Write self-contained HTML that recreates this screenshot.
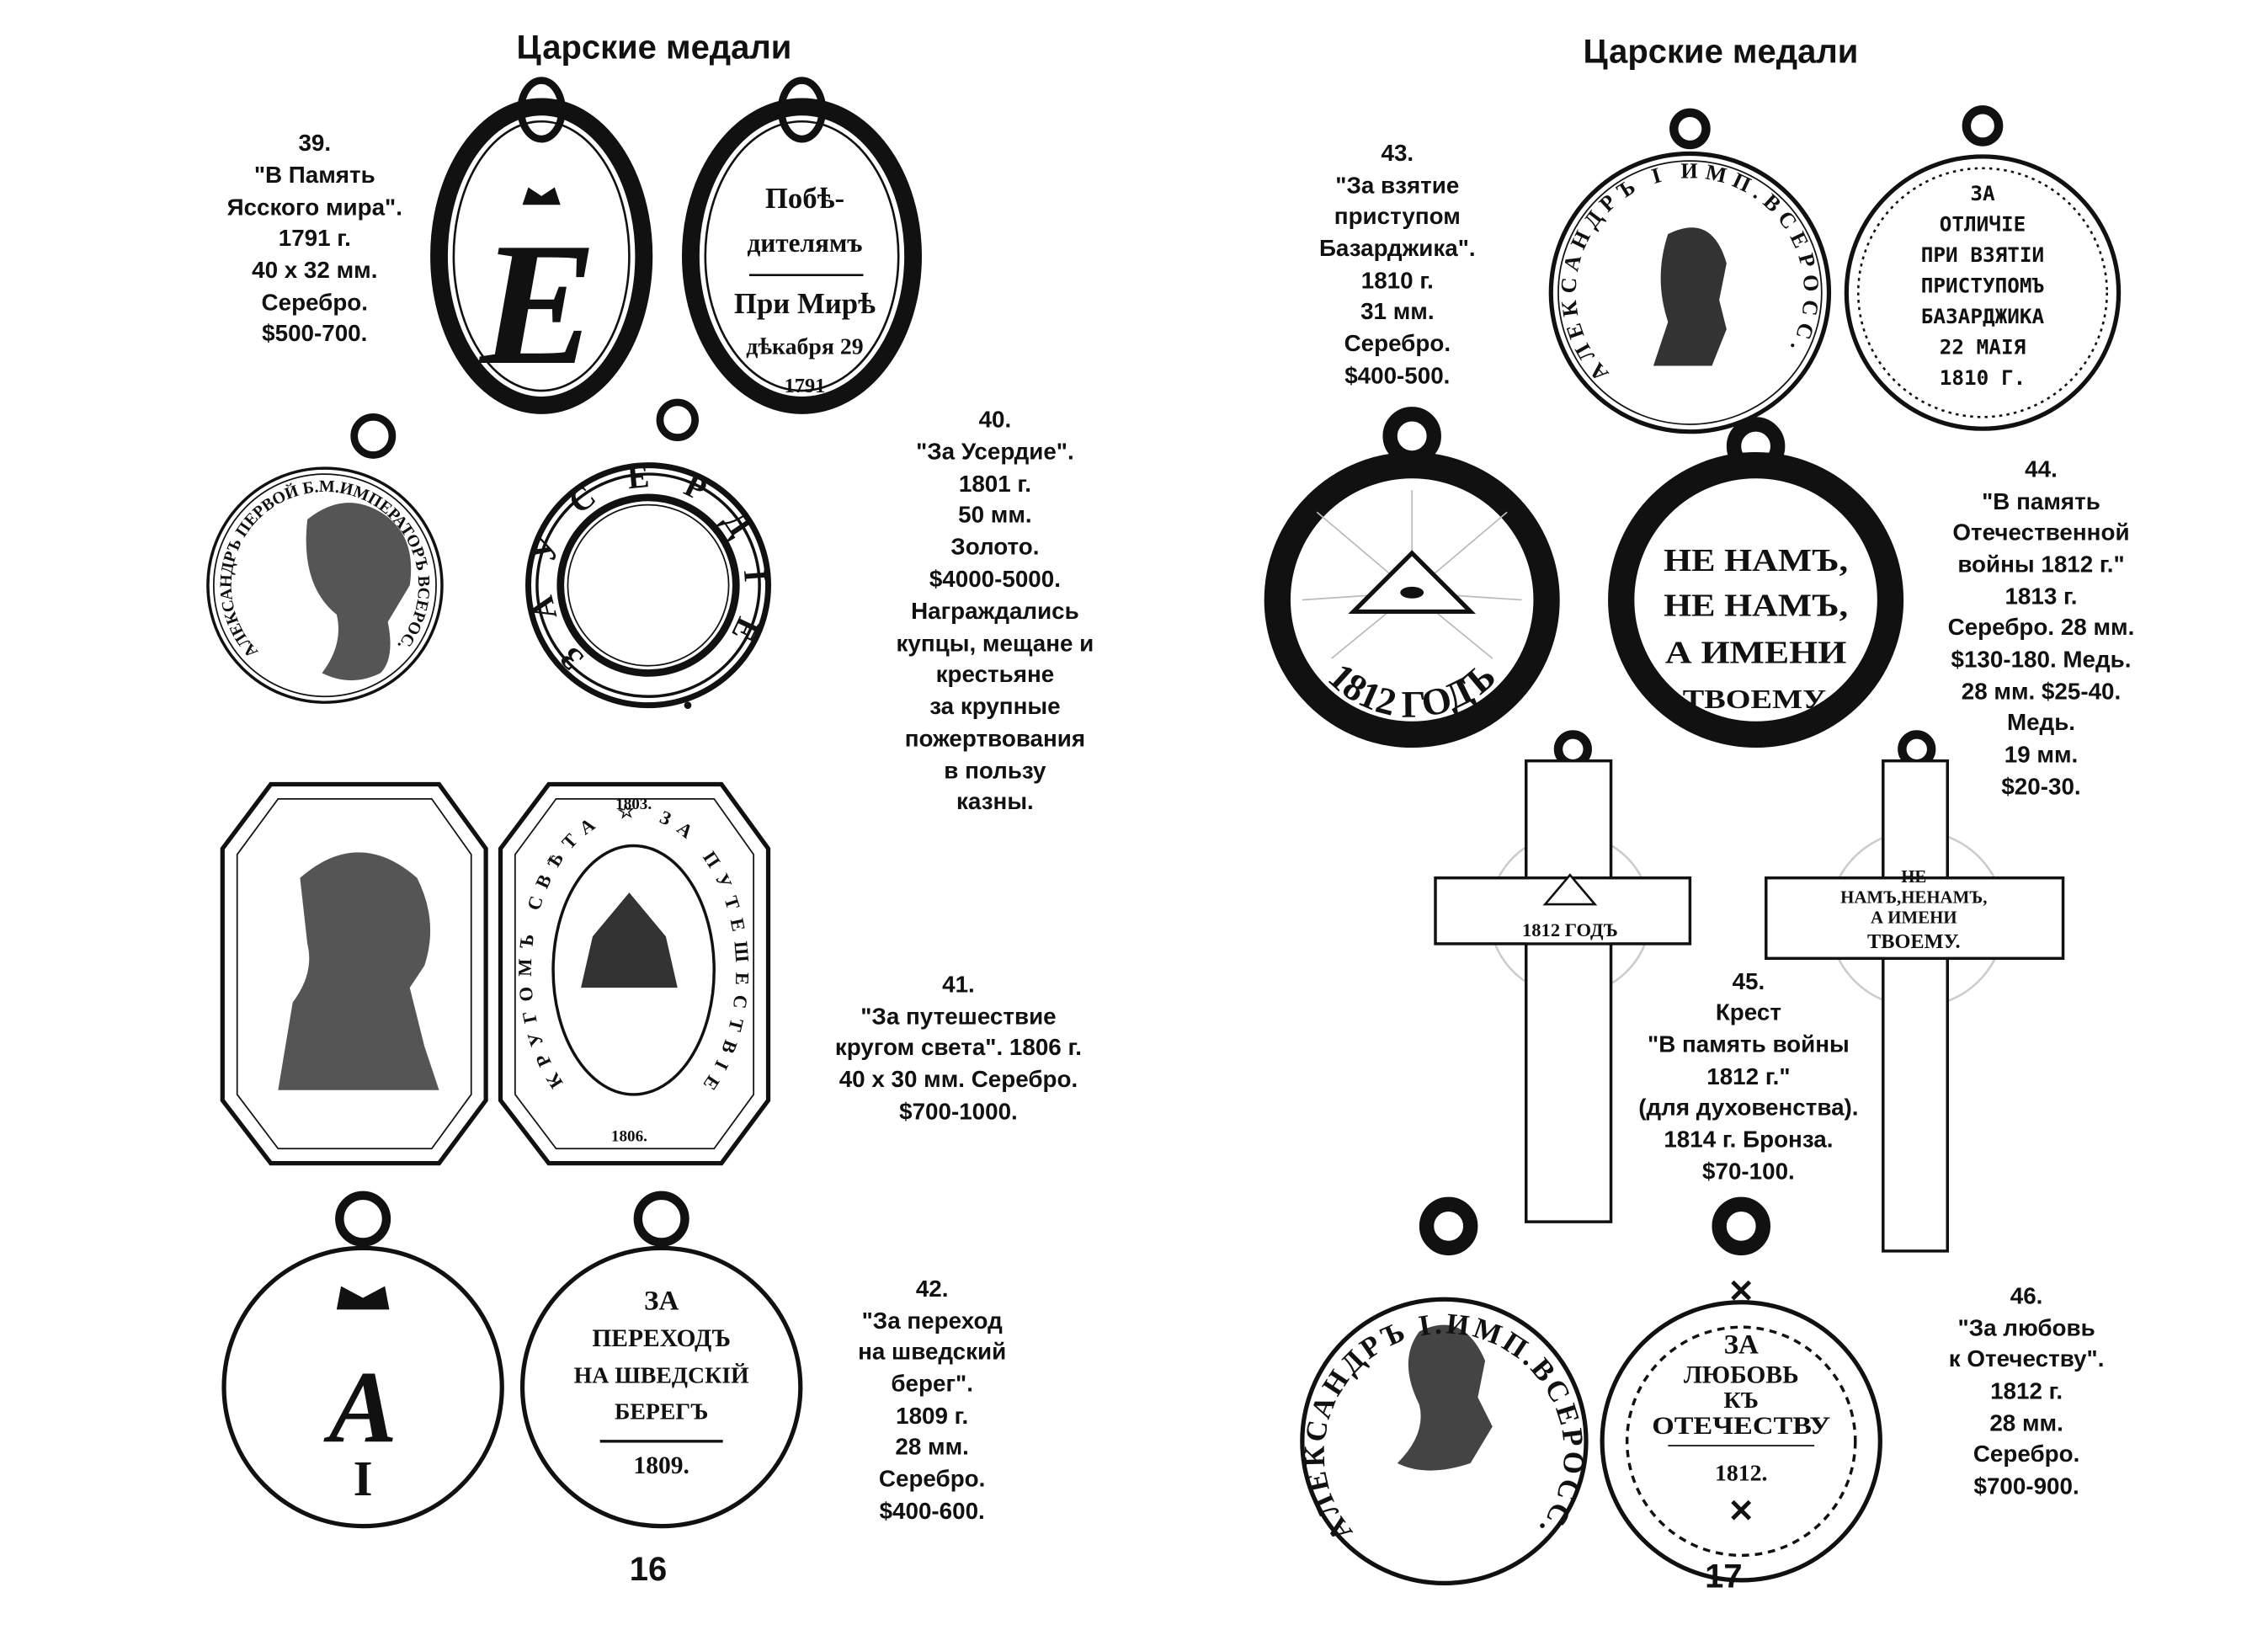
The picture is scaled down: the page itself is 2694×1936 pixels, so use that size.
<!DOCTYPE html>
<html><head><meta charset="utf-8">
<style>
html,body{margin:0;padding:0;background:#fff;}
svg{display:block;}
.t{font-family:"Liberation Sans","DejaVu Sans",sans-serif;font-weight:bold;font-size:16px;fill:#111;text-anchor:middle;}
.h{font-family:"Liberation Sans","DejaVu Sans",sans-serif;font-weight:bold;font-size:23px;fill:#111;text-anchor:middle;}
.s{font-family:"Liberation Serif","DejaVu Serif",serif;font-weight:bold;fill:#111;text-anchor:middle;}
.r{font-family:"Liberation Serif","DejaVu Serif",serif;font-weight:bold;fill:#111;}
.m{font-family:"DejaVu Sans Mono","Liberation Mono",monospace;font-weight:bold;fill:#111;text-anchor:middle;}
</style></head><body>
<svg width="2694" height="1936" viewBox="0 0 1550 1114" xmlns="http://www.w3.org/2000/svg">
<defs>
<path id="a40" d="M176.7 445.3 A64 64 0 1 1 267.3 445.3"/>
<path id="a40r" d="M400 449 A66 66 0 1 1 486 449"/>
<path id="a43" d="M1100 255 A78 78 0 1 1 1210 255"/>
<path id="a44" d="M885 410 A80 80 0 0 0 1045 410"/>
<path id="a46" d="M925 1047 A82 82 0 1 1 1049 1047"/>
<path id="a41" d="M385 740 A70 105 0 1 1 481 740"/>
</defs>
<rect width="1550" height="1114" fill="#fff"/>

<text class="h" x="447" y="40">Царские медали</text>
<g class="t">
<text x="215" y="103">39.</text><text x="215" y="125">"В Память</text><text x="215" y="147">Ясского мира".</text>
<text x="215" y="168">1791 г.</text><text x="215" y="190">40 х 32 мм.</text><text x="215" y="212">Серебро.</text><text x="215" y="233">$500-700.</text>
</g>
<g fill="none" stroke="#111">
<ellipse cx="370" cy="75" rx="14" ry="20" stroke-width="5"/>
<ellipse cx="370" cy="175" rx="70" ry="102" stroke-width="12"/>
<ellipse cx="370" cy="175" rx="60" ry="92" stroke-width="1.5"/>
<ellipse cx="548" cy="75" rx="14" ry="20" stroke-width="5"/>
<ellipse cx="548" cy="175" rx="76" ry="102" stroke-width="12"/>
<ellipse cx="548" cy="175" rx="66" ry="92" stroke-width="1.5"/>
</g>
<text class="s" x="368" y="248" font-size="120" font-style="italic" font-weight="normal">Е</text>
<path d="M357 140 l4 -12 l9 6 l9 -6 l4 12 z" fill="#111"/>
<g class="s"><text x="550" y="142" font-size="20">Побѣ-</text><text x="550" y="172" font-size="18">дителямъ</text>
<line x1="512" y1="188" x2="590" y2="188" stroke="#111" stroke-width="1.5"/>
<text x="550" y="214" font-size="20">При Мирѣ</text><text x="550" y="242" font-size="16">дѣкабря 29</text><text x="550" y="268" font-size="14">1791</text></g>

<g fill="none" stroke="#111">
<circle cx="255" cy="298" r="13" stroke-width="5"/>
<circle cx="222" cy="400" r="80" stroke-width="2"/>
<circle cx="222" cy="400" r="76" stroke-width="1"/>
<circle cx="463" cy="287" r="12" stroke-width="5"/>
<circle cx="443" cy="400" r="82" stroke-width="4"/>
<circle cx="443" cy="400" r="76" stroke-width="2"/>
<circle cx="443" cy="400" r="60" stroke-width="5"/>
<circle cx="443" cy="400" r="55" stroke-width="1"/>
</g>
<path d="M210 355 q25 -20 50 -5 q25 15 20 50 l-15 25 q5 25 -5 35 q-20 10 -40 0 q15 -20 10 -40 q-25 -20 -20 -65z" fill="#555"/>
<text class="r" font-size="11.5"><textPath href="#a40" textLength="295" lengthAdjust="spacing">АЛЕКСАНДРЪ ПЕРВОЙ Б.М.ИМПЕРАТОРЪ ВСЕРОС.</textPath></text>
<text class="r" font-size="22"><textPath href="#a40r" textLength="300" lengthAdjust="spacing">ЗАУСЕРДІЕ</textPath></text>
<circle cx="470" cy="482" r="2.5" fill="#111"/>
<g class="t">
<text x="680" y="292">40.</text><text x="680" y="314">"За Усердие".</text><text x="680" y="336">1801 г.</text><text x="680" y="357">50 мм.</text><text x="680" y="379">Золото.</text><text x="680" y="401">$4000-5000.</text><text x="680" y="423">Награждались</text><text x="680" y="445">купцы, мещане и</text><text x="680" y="466">крестьяне</text><text x="680" y="488">за крупные</text><text x="680" y="510">пожертвования</text><text x="680" y="532">в пользу</text><text x="680" y="553">казны.</text>
</g>

<g fill="none" stroke="#111" stroke-width="3">
<polygon points="185,536 300,536 332,580 332,752 300,795 185,795 152,752 152,580"/>
<polygon points="190,546 295,546 322,584 322,748 295,785 190,785 162,748 162,584" stroke-width="1"/>
<polygon points="375,536 493,536 525,580 525,752 493,795 375,795 342,752 342,580"/>
<polygon points="380,546 488,546 515,584 515,748 488,785 380,785 352,748 352,584" stroke-width="1"/>
<ellipse cx="433" cy="663" rx="55" ry="85" stroke-width="2"/>
</g>
<path d="M205 600 q40 -35 80 0 q15 30 5 60 l-10 15 l10 40 l10 30 l-110 0 l10 -60 q15 -20 10 -40z" fill="#555"/>
<path d="M405 640 l25 -30 l25 30 l8 35 l-66 0z" fill="#333"/>
<text class="r" font-size="13"><textPath href="#a41" textLength="440" lengthAdjust="spacing">КРУГОМЪ СВѢТА ☆ ЗА ПУТЕШЕСТВІЕ</textPath></text>
<g class="s" font-size="11"><text x="433" y="553">1803.</text><text x="430" y="780">1806.</text></g>
<g class="t">
<text x="655" y="678">41.</text><text x="655" y="700">"За путешествие</text><text x="655" y="721">кругом света". 1806 г.</text><text x="655" y="743">40 х 30 мм. Серебро.</text><text x="655" y="765">$700-1000.</text>
</g>

<g fill="none" stroke="#111">
<circle cx="248" cy="833" r="16" stroke-width="6"/>
<circle cx="248" cy="948" r="95" stroke-width="3"/>
<circle cx="452" cy="833" r="16" stroke-width="6"/>
<circle cx="452" cy="948" r="95" stroke-width="3"/>
</g>
<path d="M230 895 l3 -16 l15 8 l15 -8 l3 16 z" fill="#111"/>
<text class="s" x="248" y="985" font-size="70" font-style="italic" font-weight="normal">А</text>
<text class="s" x="248" y="1022" font-size="34">I</text>
<g class="s"><text x="452" y="895" font-size="19">ЗА</text><text x="452" y="920" font-size="17">ПЕРЕХОДЪ</text><text x="452" y="945" font-size="16">НА ШВЕДСКІЙ</text><text x="452" y="970" font-size="16">БЕРЕГЪ</text><text x="452" y="1007" font-size="17">1809.</text>
<line x1="410" y1="985" x2="494" y2="985" stroke="#111" stroke-width="2"/></g>
<g class="t">
<text x="637" y="886">42.</text><text x="637" y="908">"За переход</text><text x="637" y="929">на шведский</text><text x="637" y="951">берег".</text><text x="637" y="973">1809 г.</text><text x="637" y="994">28 мм.</text><text x="637" y="1016">Серебро.</text><text x="637" y="1038">$400-600.</text>
</g>
<text class="h" x="443" y="1080">16</text>

<text class="h" x="1176" y="43">Царские медали</text>
<g class="t">
<text x="955" y="110">43.</text><text x="955" y="132">"За взятие</text><text x="955" y="153">приступом</text><text x="955" y="175">Базарджика".</text><text x="955" y="197">1810 г.</text><text x="955" y="218">31 мм.</text><text x="955" y="240">Серебро.</text><text x="955" y="262">$400-500.</text>
</g>
<g fill="none" stroke="#111">
<circle cx="1155" cy="88" r="11" stroke-width="6"/>
<circle cx="1155" cy="200" r="95" stroke-width="3"/>
<circle cx="1155" cy="200" r="90" stroke-width="1"/>
<circle cx="1355" cy="86" r="11" stroke-width="6"/>
<circle cx="1355" cy="200" r="93" stroke-width="3"/>
<circle cx="1355" cy="200" r="85" stroke-width="1.5" stroke-dasharray="2 3"/>
</g>
<path d="M1140 160 q30 -15 40 20 l-5 25 l5 20 l-10 25 l-40 0 l10 -30 q-10 -30 0 -60z" fill="#333"/>
<text class="r" font-size="15"><textPath href="#a43" textLength="345" lengthAdjust="spacing">АЛЕКСАНДРЪ I ИМП.ВСЕРОСС.</textPath></text>
<g class="m" font-size="14"><text x="1355" y="137">ЗА</text><text x="1355" y="158">ОТЛИЧІЕ</text><text x="1355" y="179">ПРИ ВЗЯТІИ</text><text x="1355" y="200">ПРИСТУПОМЪ</text><text x="1355" y="221">БАЗАРДЖИКА</text><text x="1355" y="242">22 МАІЯ</text><text x="1355" y="263">1810 Г.</text></g>

<g fill="none" stroke="#111">
<circle cx="965" cy="298" r="15" stroke-width="10"/>
<circle cx="965" cy="410" r="92" stroke-width="18"/>
<circle cx="1200" cy="305" r="15" stroke-width="10"/>
<circle cx="1200" cy="410" r="92" stroke-width="18"/>
</g>
<g stroke="#bbb" stroke-width="1">
<line x1="965" y1="405" x2="900" y2="350"/><line x1="965" y1="405" x2="1030" y2="350"/><line x1="965" y1="405" x2="890" y2="410"/><line x1="965" y1="405" x2="1040" y2="410"/><line x1="965" y1="405" x2="965" y2="335"/><line x1="965" y1="405" x2="910" y2="450"/><line x1="965" y1="405" x2="1020" y2="450"/>
</g>
<polygon points="965,378 1005,418 925,418" fill="#fff" stroke="#111" stroke-width="3"/>
<ellipse cx="965" cy="405" rx="8" ry="4" fill="#111"/>
<text class="r" font-size="26" text-anchor="middle"><textPath href="#a44" startOffset="50%">1812 ГОДЪ</textPath></text>
<g class="s" font-size="22"><text x="1200" y="390" textLength="126" lengthAdjust="spacingAndGlyphs">НЕ НАМЪ,</text><text x="1200" y="421" textLength="126" lengthAdjust="spacingAndGlyphs">НЕ НАМЪ,</text><text x="1200" y="453" textLength="124" lengthAdjust="spacingAndGlyphs">А ИМЕНИ</text><text x="1200" y="484" font-size="18" textLength="100" lengthAdjust="spacingAndGlyphs">ТВОЕМУ.</text></g>
<g class="t">
<text x="1395" y="326">44.</text><text x="1395" y="348">"В память</text><text x="1395" y="369">Отечественной</text><text x="1395" y="391">войны 1812 г."</text><text x="1395" y="413">1813 г.</text><text x="1395" y="434">Серебро. 28 мм.</text><text x="1395" y="456">$130-180. Медь.</text><text x="1395" y="478">28 мм. $25-40.</text><text x="1395" y="499">Медь.</text><text x="1395" y="521">19 мм.</text><text x="1395" y="543">$20-30.</text>
</g>

<g fill="none" stroke="#ccc" stroke-width="1.5"><circle cx="1073" cy="625" r="55"/><circle cx="1310" cy="628" r="60"/></g>
<g fill="#fff" stroke="#111" stroke-width="2">
<circle cx="1075" cy="512" r="10" stroke-width="6" fill="none"/>
<rect x="1043" y="520" width="58" height="315"/>
<rect x="981" y="600" width="174" height="45"/>
<rect x="1043" y="601" width="58" height="43" stroke="none"/>
<circle cx="1310" cy="512" r="10" stroke-width="6" fill="none"/>
<rect x="1287" y="520" width="44" height="335"/>
<rect x="1207" y="600" width="203" height="55"/>
<rect x="1288" y="601" width="42" height="53" stroke="none"/>
</g>
<polygon points="1073,598 1090,618 1056,618" fill="#fff" stroke="#111" stroke-width="1.5"/>
<text class="s" x="1073" y="640" font-size="13">1812 ГОДЪ</text>
<g class="s" font-size="12"><text x="1308" y="603">НЕ</text><text x="1308" y="617">НАМЪ,НЕНАМЪ,</text><text x="1308" y="631">А ИМЕНИ</text><text x="1308" y="648" font-size="14">ТВОЕМУ.</text></g>
<g class="t">
<text x="1195" y="676">45.</text><text x="1195" y="697">Крест</text><text x="1195" y="719">"В память войны</text><text x="1195" y="741">1812 г."</text><text x="1195" y="762">(для духовенства).</text><text x="1195" y="784">1814 г. Бронза.</text><text x="1195" y="806">$70-100.</text>
</g>

<g fill="none" stroke="#111">
<circle cx="990" cy="838" r="15" stroke-width="10"/>
<circle cx="987" cy="985" r="97" stroke-width="3"/>
<circle cx="1190" cy="838" r="15" stroke-width="10"/>
<circle cx="1190" cy="985" r="95" stroke-width="3"/>
<circle cx="1190" cy="985" r="78" stroke-width="2" stroke-dasharray="5 4"/>
</g>
<path d="M970 910 q30 -15 45 20 l-5 25 l10 20 l-15 25 q-30 10 -50 0 q20 -20 15 -40 q-15 -30 0 -50z" fill="#444"/>
<text class="r" font-size="20"><textPath href="#a46" textLength="370" lengthAdjust="spacing">АЛЕКСАНДРЪ I.ИМП.ВСЕРОСС.</textPath></text>
<g class="s"><text x="1190" y="925" font-size="19">ЗА</text><text x="1190" y="945" font-size="17">ЛЮБОВЬ</text><text x="1190" y="962" font-size="16">КЪ</text><text x="1190" y="980" font-size="17" textLength="122" lengthAdjust="spacingAndGlyphs">ОТЕЧЕСТВУ</text><text x="1190" y="1012" font-size="16">1812.</text>
<line x1="1140" y1="988" x2="1240" y2="988" stroke="#111" stroke-width="1"/>
<text x="1190" y="890" font-size="22">✕</text><text x="1190" y="1040" font-size="22">✕</text></g>
<g class="t">
<text x="1385" y="891">46.</text><text x="1385" y="913">"За любовь</text><text x="1385" y="934">к Отечеству".</text><text x="1385" y="956">1812 г.</text><text x="1385" y="978">28 мм.</text><text x="1385" y="999">Серебро.</text><text x="1385" y="1021">$700-900.</text>
</g>
<text class="h" x="1178" y="1085">17</text>
</svg>
</body></html>
